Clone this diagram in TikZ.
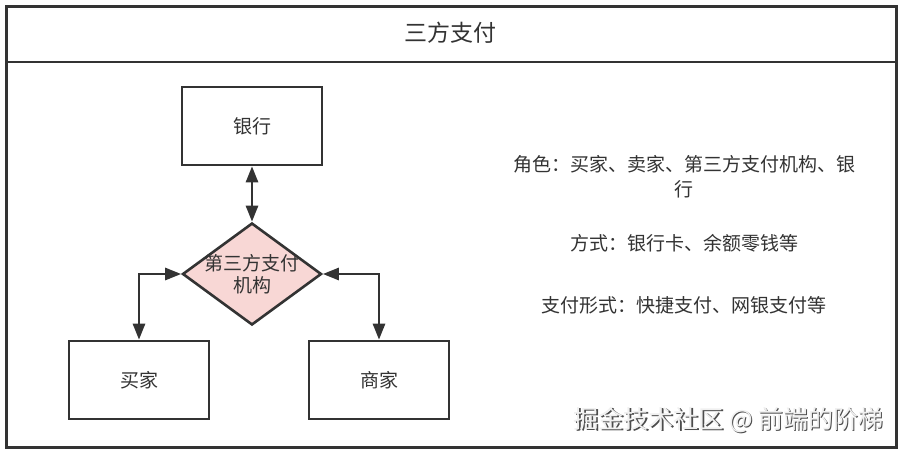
\documentclass[tikz,border=0pt]{standalone}
\usepackage{fontspec}
\setmainfont{Noto Sans CJK SC}
\usetikzlibrary{arrows.meta,shapes.geometric}
\definecolor{ink}{HTML}{333333}
\definecolor{pinkfill}{HTML}{F8D7D5}
\tikzset{
  box/.style={draw=ink,line width=2.6pt,minimum width=140pt,minimum height=78pt,text=ink,font=\fontsize{19}{21}\selectfont},
  conn/.style={draw=ink,line width=2.6pt,{Triangle[length=16pt,width=12pt]}-{Triangle[length=16pt,width=12pt]}},
  info/.style={text=ink,font=\fontsize{19}{25}\selectfont,align=center}
}
\begin{document}
\begin{tikzpicture}[x=1pt,y=-1pt]
\useasboundingbox (0,0) rectangle (903,450);
\fill[white] (0,0) rectangle (903,450);
\node[draw=ink,line width=2.6pt,minimum width=890pt,minimum height=441pt,anchor=north west] (frame) at (5,5) {};
\draw[ink,line width=2.6pt] (5,62) -- (895,62);
\node[text=ink,font=\fontsize{23}{25}\selectfont] (title) at (450,33) {三方支付};
\node[box] (bank) at (252,126) {银行};
\node[draw=ink,line width=2.6pt,fill=pinkfill,diamond,aspect=1.36,minimum width=139pt,minimum height=102pt,inner sep=0pt] (pay) at (252,274) {};
\node[text=ink,font=\fontsize{19}{22}\selectfont,align=center] (paytext) at (pay.center) {第三方支付\\机构};
\node[box] (buyer) at (139,380) {买家};
\node[box] (shop) at (379,380) {商家};
\draw[conn] (bank.south) -- (pay.north);
\draw[conn] (pay.west) -| (buyer.north);
\draw[conn] (pay.east) -| (shop.north);
\node[info] (roles) at (684,177) {角色：买家、卖家、第三方支付机构、银\\行};
\node[info] (ways) at (684,243) {方式：银行卡、余额零钱等};
\node[info] (forms) at (684,305) {支付形式：快捷支付、网银支付等};
\node[text=gray!60!black,font=\fontsize{25}{27}\selectfont,anchor=east] (wmshadow) at (888.5,421.5) {掘金技术社区 @ 前端的阶梯};
\node[text=white!94!black,font=\fontsize{25}{27}\selectfont,anchor=east] (wm) at (887,420) {掘金技术社区 @ 前端的阶梯};
\end{tikzpicture}
\end{document}
